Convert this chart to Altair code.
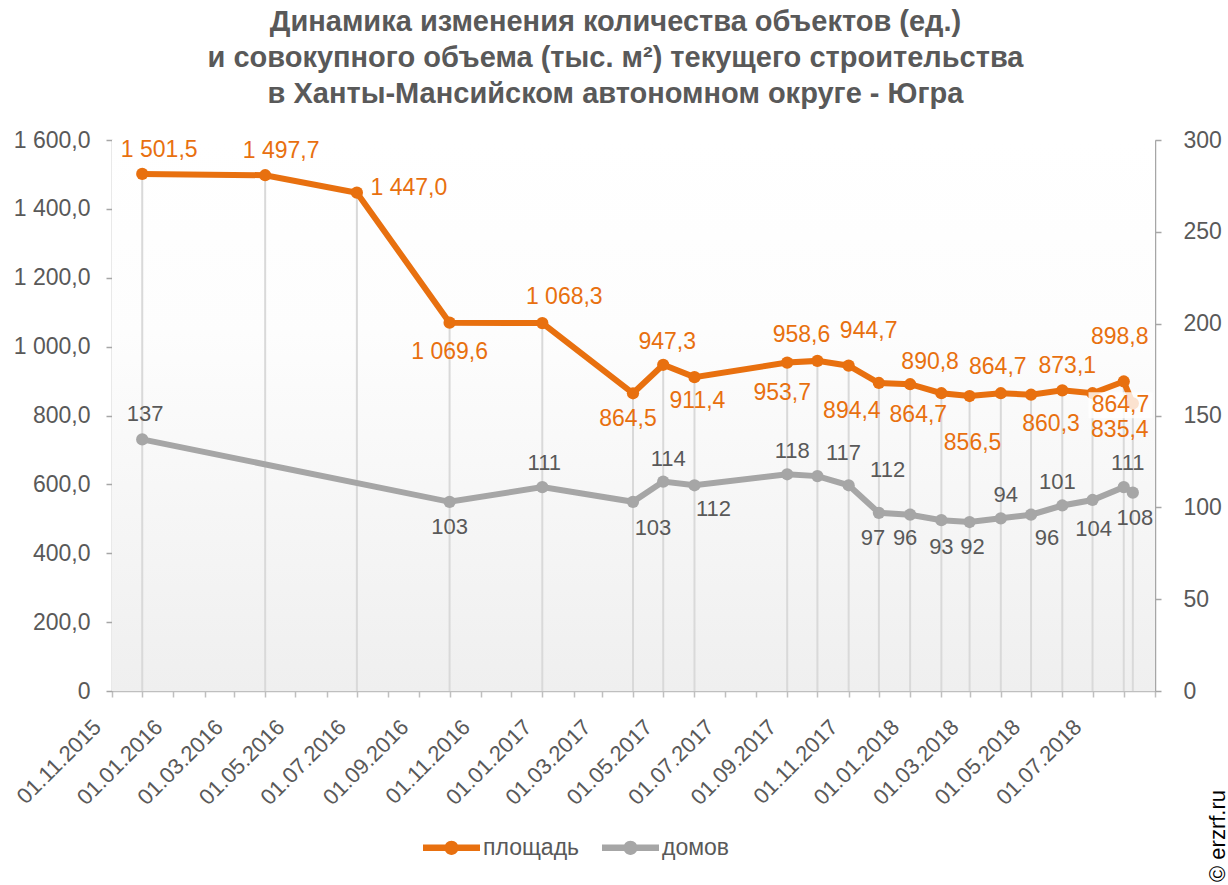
import altair as alt
import pandas as pd

# ---- data ----
dates = ["01.12.2015", "01.04.2016", "01.07.2016", "01.10.2016", "01.01.2017",
         "01.04.2017", "01.05.2017", "01.06.2017", "01.09.2017", "01.10.2017",
         "01.11.2017", "01.12.2017", "01.01.2018", "01.02.2018", "01.03.2018",
         "01.04.2018", "01.05.2018", "01.06.2018", "01.07.2018", "01.08.2018",
         "10.08.2018"]
area = [1501.5, 1497.7, 1447.0, 1069.6, 1068.3, 864.5, 947.3, 911.4, 953.7, 958.6,
        944.7, 894.4, 890.8, 864.7, 856.5, 864.7, 860.3, 873.1, 864.7, 898.8, 835.4]
houses = [137, None, None, 103, 111, 103, 114, 112, 118, 117, 112, 97, 96, 93, 92,
          94, 96, 101, 104, 111, 108]

# label offsets (pixels) for the data labels
area_dx = [17, 16, 52, 0, 22, -5, 4, 3, -5, -16, 20, -27, 20, -23, 3, -3, 20, 5, 28, -4, -13]
area_dy = [-24, -24, -5, 29, -26, 26, -23, 24, 30, -26, -35, 28, -22, 22, 47, -26, 29, -24, 12, -44, 27]
house_dx = [3, 0, 0, 0, 2, 20, 5, 19, 5, 26, 39, -6, -5, 0, 3, 5, 16, -5, 1, 4, 2]
house_dy = [-25, 0, 0, 25, -24, 26, -23, 24, -23, -23, -15, 25, 23, 27, 25, -23, 23, -23, 29, -24, 25]
# data label that sits on a white box in the original
boxed = [False] * 18 + [True, False, False]

ORANGE = "#E8700F"
GREY = "#A6A6A6"
TXT = "#595959"
FONT = "Liberation Sans"

W, H = 1043, 551


def ru_fmt(v):
    return f"{v:,.1f}".replace(",", " ").replace(".", ",")


df = pd.DataFrame({
    "date": pd.to_datetime(dates, format="%d.%m.%Y"),
    "area": area,
    "houses": houses,
    "adx": area_dx, "ady": area_dy, "hdx": house_dx, "hdy": house_dy,
    "boxed": boxed,
})
df["alabel"] = [ru_fmt(v) for v in area]
df["hlabel"] = [("" if v is None else str(int(v))) for v in houses]
df["s_area"] = "площадь"
df["s_houses"] = "домов"
dfh = df[df["houses"].notna()].copy()

month_ticks = [alt.DateTime(year=2015 + (10 + i) // 12, month=(10 + i) % 12 + 1, date=1)
               for i in range(0, 35)]

xscale = alt.Scale(domain=[alt.DateTime(year=2015, month=11, date=1),
                           alt.DateTime(year=2018, month=9, date=1)], nice=False)
xaxis = alt.Axis(values=month_ticks, title=None, grid=False,
                 labelExpr="(month(datum.value) % 2 == 0 && year(datum.value) * 12 + month(datum.value) < 2018 * 12 + 7) ? timeFormat(datum.value, '%d.%m.%Y') : ''",
                 labelAngle=-45, labelAlign="right", labelBaseline="alphabetic",
                 labelFontSize=22, labelColor=TXT, labelFont=FONT,
                 labelOverlap=False, labelFlush=False, labelPadding=31, labelOffset=-10,
                 tickSize=6, tickColor="#BFBFBF", domainColor="#BFBFBF", domainWidth=1.5,
                 tickWidth=1.5)
X = alt.X("date:T", scale=xscale, axis=xaxis)

color_scale = alt.Scale(domain=["площадь", "домов"], range=[ORANGE, GREY])
legend = alt.Legend(title=None, orient="none", direction="horizontal",
                    legendX=311, legendY=679,
                    symbolType="M-1,-0.11 L1,-0.11 L1,0.11 L-1,0.11 Z M-0.25,0 A0.25,0.25 0 1,1 0.25,0 A0.25,0.25 0 1,1 -0.25,0 Z",
                    symbolSize=3249, symbolStrokeWidth=0, labelFontSize=23, labelColor=TXT,
                    labelFont=FONT, labelOffset=3, columnPadding=22)

bg = alt.Chart(pd.DataFrame({"a": [0]})).mark_rect(
    fill=alt.Gradient(gradient="linear", x1=0, x2=0, y1=0, y2=1,
                      stops=[alt.GradientStop(offset=0, color="#FFFFFF"),
                             alt.GradientStop(offset=0.35, color="#FDFDFD"),
                             alt.GradientStop(offset=1, color="#EFEFEF")])
).encode(x=alt.value(0), x2=alt.value(W), y=alt.value(0), y2=alt.value(H))

drops = alt.Chart(df).mark_rule(color="#D9D9D9", strokeWidth=2).encode(
    x=X,
    y=alt.Y("area:Q", scale=alt.Scale(domain=[0, 1600], nice=False), axis=None),
    y2=alt.datum(0),
)

ys_h = alt.Scale(domain=[0, 300], nice=False)
yh_axis = alt.Axis(orient="right", values=list(range(0, 301, 50)), title=None, grid=False,
                   labelFontSize=23, labelColor=TXT, labelFont=FONT, labelPadding=22,
                   tickSize=6, tickColor="#A6A6A6", domainColor="#A6A6A6", domainWidth=1.5,
                   tickWidth=1.5)
Yh = alt.Y("houses:Q", scale=ys_h, axis=yh_axis)

h_line = alt.Chart(dfh).mark_line(color=GREY, strokeWidth=6).encode(x=X, y=Yh)
h_pts = alt.Chart(dfh).mark_point(filled=True, size=150, opacity=1).encode(
    x=X, y=Yh, color=alt.Color("s_houses:N", scale=color_scale, legend=legend))
h_txt = alt.Chart(dfh).mark_text(fontSize=22, color=TXT, font=FONT,
                                 dx=alt.expr("datum.hdx"), dy=alt.expr("datum.hdy")).encode(
    x=X, y=Yh, text="hlabel:N")
grey_layer = alt.layer(h_line, h_pts, h_txt)

ys_a = alt.Scale(domain=[0, 1600], nice=False)
ya_axis = alt.Axis(orient="left", values=list(range(0, 1601, 200)), title=None, grid=False,
                   labelExpr="datum.value == 0 ? '0' : replace(replace(format(datum.value, ',.1f'), ',', ' '), '.', ',')",
                   labelFontSize=23, labelColor=TXT, labelFont=FONT, labelPadding=16,
                   tickSize=6, tickColor="#A6A6A6", domainColor="#A6A6A6", domainWidth=1.5,
                   tickWidth=1.5)
Ya = alt.Y("area:Q", scale=ys_a, axis=ya_axis)

a_line = alt.Chart(df).mark_line(color=ORANGE, strokeWidth=6).encode(x=X, y=Ya)
a_pts = alt.Chart(df).mark_point(filled=True, size=150, opacity=1).encode(
    x=X, y=Ya, color=alt.Color("s_area:N", scale=color_scale, legend=legend))
a_box = alt.Chart(df).transform_filter("datum.boxed").mark_rect(
    color="white", opacity=0.8, width=64, height=26,
    xOffset=alt.expr("datum.adx"), yOffset=alt.expr("datum.ady")).encode(x=X, y=Ya)
a_txt = alt.Chart(df).mark_text(fontSize=23, color=ORANGE, font=FONT,
                                dx=alt.expr("datum.adx"), dy=alt.expr("datum.ady")).encode(
    x=X, y=Ya, text="alabel:N")
orange_layer = alt.layer(a_line, a_pts, a_box, a_txt)

copyright_txt = alt.Chart(pd.DataFrame({"t": ["© erzrf.ru"]})).mark_text(
    angle=270, align="left", baseline="alphabetic", fontSize=22, color="#000000", font=FONT
).encode(x=alt.value(1113), y=alt.value(742), text="t:N")

chart = alt.layer(bg, drops, grey_layer, orange_layer, copyright_txt).resolve_scale(
    y="independent"
).properties(
    width=W, height=H,
    autosize=alt.AutoSizeParams(type="none"),
    padding={"left": 112, "top": 140, "right": 73, "bottom": 194},
    title=alt.TitleParams(
        text=["Динамика изменения количества объектов (ед.)",
              "и совокупного объема (тыс. м²) текущего строительства",
              "в Ханты-Мансийском автономном округе - Югра"],
        fontSize=29, fontWeight="bold", color=TXT, font=FONT, anchor="middle",
        lineHeight=36, offset=20, dx=-18),
).configure_view(stroke=None).configure(background="white")

chart.save("out.html", embed_options={"renderer": "svg", "actions": False})
